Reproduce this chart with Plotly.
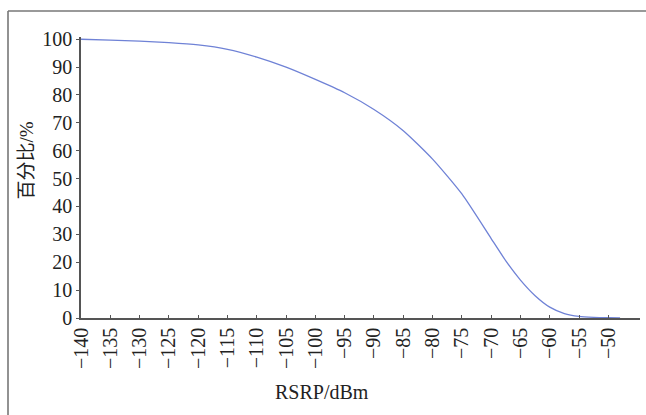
import plotly.graph_objects as go

# RSRP (dBm) vs. cumulative percentage
rsrp = [-140, -135, -130, -125, -120, -115, -110, -105, -100, -95, -90,
        -85, -80, -75, -70, -67.5, -65, -62.5, -60, -57.5, -55, -52.5, -50, -48]
percent = [100, 99.7, 99.3, 98.8, 98.0, 96.4, 93.6, 90.0, 85.6, 80.8, 74.8,
           67.2, 57.0, 44.5, 28.5, 20.5, 13.6, 8.0, 3.9, 1.6, 0.6, 0.25, 0.1, 0.05]

x_ticks = list(range(-140, -49, 5))
y_ticks = list(range(0, 101, 10))

W, H = 646, 415
L, R, T, B = 81, 6, 37, 97

serif = "Liberation Serif"
axis_color = "#555555"
pw, ph = W - L - R, H - T - B

fig = go.Figure()
fig.add_trace(go.Scatter(
    x=rsrp, y=percent, mode="lines",
    line=dict(color="#6f82d6", width=1.3, shape="spline", smoothing=0.6),
    showlegend=False, hoverinfo="skip",
))

fig.update_layout(
    width=W, height=H,
    margin=dict(l=L, r=R, t=T, b=B, pad=0),
    paper_bgcolor="white", plot_bgcolor="white",
    font=dict(family=serif, size=20, color="#222222"),
    xaxis=dict(
        range=[-140, -44.6], tickvals=x_ticks, tickangle=-90,
        showgrid=False, zeroline=False,
        showline=True, linecolor=axis_color, linewidth=1.5,
        ticks="inside", ticklen=3, tickcolor=axis_color, tickwidth=1,
        tickfont=dict(family=serif, size=20, color="#222222"),
    ),
    yaxis=dict(
        range=[0, 100.8], tickvals=y_ticks,
        showgrid=False, zeroline=False,
        showline=True, linecolor=axis_color, linewidth=1.5,
        ticks="outside", ticklen=3, tickcolor=axis_color, tickwidth=1,
        tickfont=dict(family=serif, size=20, color="#222222"),
    ),
    annotations=[
        dict(text="百分比/%", textangle=-90, showarrow=False,
             xref="paper", yref="paper", x=-0.0975, y=0.562,
             xanchor="center", yanchor="middle",
             font=dict(family="Liberation Serif, Noto Sans CJK SC", size=19,
                       color="#222222")),
        dict(text="RSRP/dBm", showarrow=False,
             xref="paper", yref="paper", x=0.431, y=-0.263,
             xanchor="center", yanchor="middle",
             font=dict(family=serif, size=20, color="#222222")),
    ],
    shapes=[
        # outer frame: top and left edges
        dict(type="line", xref="paper", yref="paper",
             x0=(8 - L) / pw, x1=(W - L) / pw,
             y0=(ph + T - 11) / ph, y1=(ph + T - 11) / ph,
             line=dict(color="#777777", width=1.6)),
        dict(type="line", xref="paper", yref="paper",
             x0=(8 - L) / pw, x1=(8 - L) / pw,
             y0=(ph + T - 11) / ph, y1=-B / ph,
             line=dict(color="#777777", width=1.6)),
    ],
)

fig.write_html("out.html", config={"displayModeBar": False})
